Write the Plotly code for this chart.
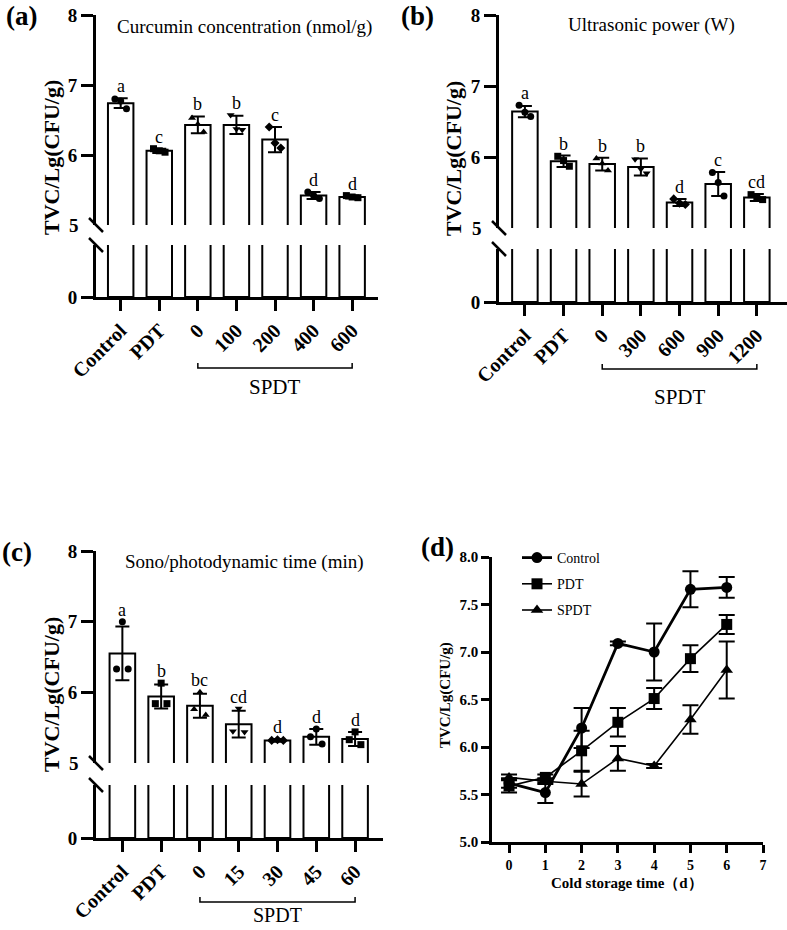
import plotly.graph_objects as go

# ---------------- data ----------------
a_cats = ["Control", "PDT", "0", "100", "200", "400", "600"]
a_means = [6.74, 6.06, 6.43, 6.43, 6.22, 5.42, 5.40]
a_sd = [0.07, 0.03, 0.12, 0.13, 0.18, 0.05, 0.02]
a_points = [[6.80, 6.77, 6.66], [6.09, 6.06, 6.04], [6.53, 6.44, 6.33], [6.57, 6.37, 6.36],
            [6.40, 6.17, 6.10], [5.47, 5.42, 5.38], [5.42, 5.40, 5.39]]
a_letters = ["a", "c", "b", "b", "c", "d", "d"]
a_title = "Curcumin concentration (nmol/g)"

b_cats = ["Control", "PDT", "0", "300", "600", "900", "1200"]
b_means = [6.64, 5.94, 5.90, 5.86, 5.36, 5.62, 5.43]
b_sd = [0.08, 0.08, 0.09, 0.12, 0.05, 0.17, 0.05]
b_points = [[6.73, 6.63, 6.57], [6.01, 5.95, 5.87], [5.98, 5.91, 5.81], [5.97, 5.83, 5.77],
            [5.41, 5.35, 5.33], [5.78, 5.64, 5.45], [5.47, 5.42, 5.40]]
b_letters = ["a", "b", "b", "b", "d", "c", "cd"]
b_title = "Ultrasonic power (W)"

c_cats = ["Control", "PDT", "0", "15", "30", "45", "60"]
c_means = [6.55, 5.94, 5.81, 5.55, 5.32, 5.37, 5.34]
c_sd = [0.38, 0.17, 0.17, 0.19, 0.02, 0.11, 0.10]
c_points = [[6.33, 7.00, 6.33], [5.84, 6.13, 5.84], [5.76, 6.00, 5.68], [5.45, 5.77, 5.44],
            [5.32, 5.33, 5.32], [5.37, 5.48, 5.27], [5.33, 5.44, 5.26]]
c_letters = ["a", "b", "bc", "cd", "d", "d", "d"]
c_title = "Sono/photodynamic time (min)"

upper_ticks = [6, 7, 8]
break_label = 5
lower_ticks = [0]
group_label = "SPDT"
y_title = "TVC/Lg(CFU/g)"

d_days = [0, 1, 2, 3, 4, 5, 6]
d_xticks = [0, 1, 2, 3, 4, 5, 6, 7]
d_yticks = [5.0, 5.5, 6.0, 6.5, 7.0, 7.5, 8.0]
d_series = ["Control", "PDT", "SPDT"]
d_control = [5.62, 5.52, 6.20, 7.09, 7.00, 7.66, 7.68]
d_control_sd = [0.05, 0.11, 0.21, 0.02, 0.30, 0.19, 0.11]
d_pdt = [5.59, 5.68, 5.96, 6.26, 6.51, 6.93, 7.29]
d_pdt_sd = [0.07, 0.03, 0.21, 0.15, 0.11, 0.14, 0.10]
d_spdt = [5.68, 5.64, 5.61, 5.88, 5.80, 6.29, 6.81]
d_spdt_sd = [0.03, 0.03, 0.13, 0.13, 0.02, 0.15, 0.30]
d_xtitle = "Cold storage time（d）"

# ---------------- style / geometry ----------------
W, H = 787, 930
FONT = "Liberation Serif, Times New Roman, serif"
SYMBOLS = ["circle", "square", "triangle-up", "triangle-down", "diamond", "circle", "square"]
DOT_OFFSETS = [-0.15, 0.0, 0.15]


def PX(v):
    return v / W


def PY(v):
    return 1 - v / H


fig = go.Figure()
layout = {}
shapes = []
annotations = []


def add_bar_panel(k, cats, means, sds, points, letters, title, label, g):
    xu, yu, xl, yl = k, k, k + 1, k + 1
    xuref, yuref = ("x" if xu == 1 else f"x{xu}"), ("y" if yu == 1 else f"y{yu}")
    xlref, ylref = f"x{xl}", f"y{yl}"
    idx = list(range(len(cats)))
    bar_style = dict(color="white", line=dict(color="black", width=2))
    # upper bars
    fig.add_trace(go.Bar(x=idx, y=means, width=0.66, marker=bar_style,
                         error_y=dict(type="data", array=sds, visible=True, thickness=2,
                                      width=7, color="black"),
                         xaxis=xuref, yaxis=yuref, showlegend=False))
    # dots
    xs, ys, syms = [], [], []
    for i, pts in enumerate(points):
        for j, v in enumerate(pts):
            xs.append(i + DOT_OFFSETS[j])
            ys.append(v)
            syms.append(SYMBOLS[i])
    fig.add_trace(go.Scatter(x=xs, y=ys, mode="markers",
                             marker=dict(color="black", size=7, symbol=syms),
                             xaxis=xuref, yaxis=yuref, showlegend=False))
    # lower bars
    fig.add_trace(go.Bar(x=idx, y=means, width=0.66, marker=bar_style,
                         xaxis=xlref, yaxis=ylref, showlegend=False))

    xdom = [PX(g["x0"]), PX(g["x1"])]
    xr = g["xr"]
    layout["xaxis" if xu == 1 else f"xaxis{xu}"] = dict(
        domain=xdom, range=xr, anchor=yuref, visible=False, fixedrange=True, automargin=False)
    layout["yaxis" if yu == 1 else f"yaxis{yu}"] = dict(
        domain=[PY(g["y5"]), PY(g["y8"])], range=[5, 8], anchor=xuref, automargin=False,
        tickvals=upper_ticks, ticks="outside", ticklen=12, tickwidth=3, tickcolor="black",
        showline=True, linewidth=3, linecolor="black", showgrid=False, zeroline=False,
        tickfont=dict(family=FONT, size=19, color="black", weight="bold"))
    layout[f"xaxis{xl}"] = dict(
        domain=xdom, range=xr, anchor=ylref, tickvals=idx, ticktext=cats, tickangle=-45,
        automargin=False,
        ticks="outside", ticklen=11, tickwidth=3, tickcolor="black",
        showline=True, linewidth=3, linecolor="black", showgrid=False, zeroline=False,
        tickfont=dict(family=FONT, size=20, color="black", weight="bold"))
    layout[f"yaxis{yl}"] = dict(
        domain=[PY(g["y0"]), PY(g["ylt"])], range=[0, 1], anchor=xlref, automargin=False,
        tickvals=lower_ticks, ticks="outside", ticklen=12, tickwidth=3, tickcolor="black",
        showline=True, linewidth=3, linecolor="black", showgrid=False, zeroline=False,
        tickfont=dict(family=FONT, size=19, color="black", weight="bold"))

    # "5" label at the break
    annotations.append(dict(x=PX(g["x0"] - 15), xref="paper", y=break_label, yref=yuref,
                            text=str(break_label), showarrow=False, xanchor="right",
                            font=dict(family=FONT, size=19, color="black", weight="bold")))
    # break slashes
    for yc in (g["y5"], g["ylt"]):
        shapes.append(dict(type="line", xref="paper", yref="paper",
                           x0=PX(g["x0"] - 7), x1=PX(g["x0"] + 7),
                           y0=PY(yc - 7), y1=PY(yc + 7),
                           line=dict(color="black", width=2.5)))
    # letters (above the error bar or the highest dot)
    for i, t in enumerate(letters):
        top = max(means[i] + sds[i], max(points[i]))
        annotations.append(dict(x=i, y=top, xref=xuref, yref=yuref, text=t,
                                showarrow=False, yanchor="bottom", yshift=0,
                                font=dict(family=FONT, size=18, color="black")))
    # panel title
    annotations.append(dict(x=PX(g["tx"]), y=PY(g["ty"]), xref="paper", yref="paper",
                            text=title, showarrow=False, xanchor="center", yanchor="middle",
                            font=dict(family=FONT, size=19, color="black")))
    # y title
    annotations.append(dict(x=PX(g["yx"]), y=PY(g["yy"]), xref="paper", yref="paper",
                            text=y_title, textangle=-90, showarrow=False,
                            xanchor="center", yanchor="middle",
                            font=dict(family=FONT, size=22, color="black", weight="bold")))
    # panel letter
    annotations.append(dict(x=PX(g["lx"]), y=PY(g["ly"]), xref="paper", yref="paper",
                            text=label, showarrow=False, xanchor="center", yanchor="middle",
                            font=dict(family=FONT, size=27, color="black", weight="bold")))
    # SPDT bracket
    b0, b1 = 2, len(cats) - 1
    shapes.append(dict(type="path", xref=xlref, yref="paper",
                       path=f"M {b0},{PY(g['by'] - 5)} L {b0},{PY(g['by'])} L {b1},{PY(g['by'])} L {b1},{PY(g['by'] - 5)}",
                       line=dict(color="black", width=1.5)))
    annotations.append(dict(x=(b0 + b1) / 2, xref=xlref, y=PY(g["sy"]), yref="paper",
                            text=group_label, showarrow=False, xanchor="center", yanchor="middle",
                            font=dict(family=FONT, size=g.get("sf", 21), color="black")))


geo_a = dict(x0=96, x1=378, xr=[-0.64, 6.67], y8=15, y5=225, ylt=245, y0=297,
             tx=244, ty=27, yx=51, yy=158, lx=21, ly=16, by=368, sy=387)
geo_b = dict(x0=499, x1=787, xr=[-0.67, 6.78], y8=15, y5=228, ylt=249, y0=302,
             tx=651, ty=25, yx=454, yy=159, lx=418, ly=16, by=369, sy=397)
geo_c = dict(x0=96, x1=383, xr=[-0.68, 6.72], y8=551, y5=763, ylt=785, y0=838,
             tx=244, ty=562, yx=51, yy=695, lx=17, ly=552, by=902, sy=915, sf=20)

add_bar_panel(1, a_cats, a_means, a_sd, a_points, a_letters, a_title, "(a)", geo_a)
add_bar_panel(3, b_cats, b_means, b_sd, b_points, b_letters, b_title, "(b)", geo_b)
add_bar_panel(5, c_cats, c_means, c_sd, c_points, c_letters, c_title, "(c)", geo_c)

# ---------------- panel d ----------------
d_vals = [d_control, d_pdt, d_spdt]
d_sds = [d_control_sd, d_pdt_sd, d_spdt_sd]
d_sym = ["circle", "square", "triangle-up"]
d_lw = [2.8, 1.6, 1.6]
for name, vals, sds, sym, lw in zip(d_series, d_vals, d_sds, d_sym, d_lw):
    fig.add_trace(go.Scatter(x=d_days, y=vals, mode="lines+markers", name=name,
                             legendgroup=name,
                             line=dict(color="black", width=lw),
                             marker=dict(color="black", size=11, symbol=sym),
                             error_y=dict(type="data", array=sds, visible=True, thickness=2,
                                          width=8, color="black"),
                             xaxis="x7", yaxis="y7"))

layout["xaxis7"] = dict(domain=[PX(492), PX(763)], range=[-0.47, 7.0], anchor="y7",
                        automargin=False,
                        tickvals=d_xticks, ticks="outside", ticklen=8, tickwidth=2.5,
                        tickcolor="black", showline=True, linewidth=2.5, linecolor="black",
                        showgrid=False, zeroline=False,
                        tickfont=dict(family=FONT, size=14, color="black", weight="bold"))
layout["yaxis7"] = dict(domain=[PY(842), PY(557)], range=[5, 8], anchor="x7",
                        automargin=False,
                        tickvals=d_yticks, tickformat=".1f", ticks="outside", ticklen=8,
                        tickwidth=2.5, tickcolor="black", showline=True, linewidth=2.5,
                        linecolor="black", showgrid=False, zeroline=False,
                        tickfont=dict(family=FONT, size=15, color="black", weight="bold"))
annotations.append(dict(x=PX(627), y=PY(883), xref="paper", yref="paper", text=d_xtitle,
                        showarrow=False, xanchor="center", yanchor="middle",
                        font=dict(family=FONT, size=15, color="black", weight="bold")))
annotations.append(dict(x=PX(445), y=PY(695), xref="paper", yref="paper", text=y_title,
                        textangle=-90, showarrow=False, xanchor="center", yanchor="middle",
                        font=dict(family=FONT, size=15, color="black", weight="bold")))
annotations.append(dict(x=PX(437), y=PY(547), xref="paper", yref="paper", text="(d)",
                        showarrow=False, xanchor="center", yanchor="middle",
                        font=dict(family=FONT, size=27, color="black", weight="bold")))

fig.update_layout(
    width=W, height=H, margin=dict(l=0, r=0, t=0, b=0, autoexpand=False),
    paper_bgcolor="white", plot_bgcolor="rgba(0,0,0,0)",
    barmode="overlay",
    showlegend=True,
    legend=dict(x=PX(517), y=PY(542), xanchor="left", yanchor="top",
                bgcolor="rgba(0,0,0,0)", traceorder="grouped", tracegroupgap=5,
                font=dict(family=FONT, size=14, color="black")),
    shapes=shapes, annotations=annotations,
    **layout,
)

fig.write_html(
    "out.html",
    config={"displayModeBar": False},
    post_script="document.body.style.margin='0';document.body.style.overflow='hidden';",
)
